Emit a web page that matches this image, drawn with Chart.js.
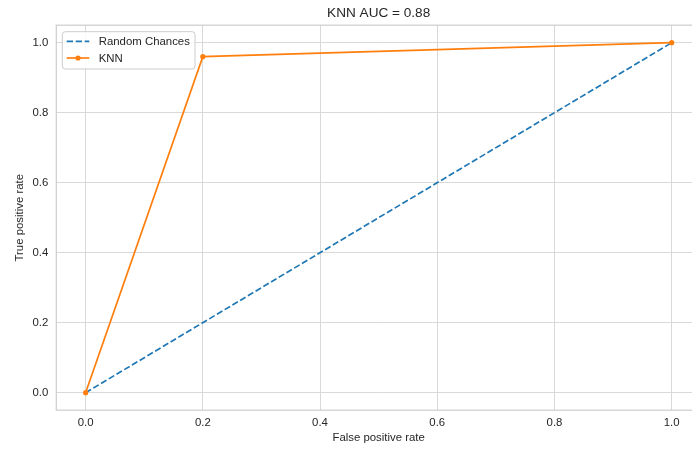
<!DOCTYPE html>
<html>
<head>
<meta charset="utf-8">
<script src="https://cdn.jsdelivr.net/npm/chart.js@4/dist/chart.umd.min.js"></script>
<style>
  html, body { margin: 0; padding: 0; background: #fff; overflow: hidden; }
  #wrap { width: 710px; height: 450px; }
</style>
</head>
<body>
<div id="wrap"><canvas id="c" width="710" height="450"></canvas></div>
<script>
// ---- data ----
const chartTitle = "KNN AUC = 0.88";
const xLabel = "False positive rate";
const yLabel = "True positive rate";
const seriesNames = ["Random Chances", "KNN"];
const randomFpr = [0, 1];
const randomTpr = [0, 1];
const knnFpr = [0, 0.2, 1];
const knnTpr = [0, 0.96, 1];
const xTicks = [0, 0.2, 0.4, 0.6, 0.8, 1.0];
const yTicks = [0, 0.2, 0.4, 0.6, 0.8, 1.0];

const FONT = "'Liberation Sans', Arial, sans-serif";
const TEXT = "#262626";
const GRID = "#d9d9d9";
const SPINE = "#cccccc";

function pts(xs, ys) { return xs.map((x, i) => ({ x: x, y: ys[i] })); }

const framePlugin = {
  id: 'frame',
  beforeDatasetsDraw(chart) {
    const { ctx, chartArea: a } = chart;
    ctx.save();
    ctx.strokeStyle = SPINE;
    ctx.lineWidth = 1.2;
    ctx.strokeRect(a.left, a.top, a.right - a.left, a.bottom - a.top);
    ctx.restore();
  },
  afterDraw(chart) {
    const { ctx, chartArea: a } = chart;
    ctx.save();
    // title
    ctx.fillStyle = TEXT;
    ctx.font = "13.6px " + FONT;
    ctx.textAlign = "center";
    ctx.textBaseline = "middle";
    ctx.fillText(chartTitle, (a.left + a.right) / 2, 13);
    // legend
    const bx = 62.3, by = 31.7, bw = 132.7, bh = 37.3, r = 3;
    ctx.beginPath();
    ctx.moveTo(bx + r, by);
    ctx.arcTo(bx + bw, by, bx + bw, by + bh, r);
    ctx.arcTo(bx + bw, by + bh, bx, by + bh, r);
    ctx.arcTo(bx, by + bh, bx, by, r);
    ctx.arcTo(bx, by, bx + bw, by, r);
    ctx.closePath();
    ctx.fillStyle = "rgba(255,255,255,0.85)";
    ctx.fill();
    ctx.strokeStyle = SPINE;
    ctx.lineWidth = 1;
    ctx.stroke();
    const order = [1, 0]; // dataset index for Random, KNN
    const rows = [41.3, 58];
    order.forEach((di, k) => {
      const ds = chart.data.datasets[di];
      const y = rows[k];
      ctx.beginPath();
      ctx.setLineDash(ds.borderDash || []);
      ctx.strokeStyle = ds.borderColor;
      ctx.lineWidth = ds.borderWidth;
      ctx.moveTo(66.7, y);
      ctx.lineTo(89.3, y);
      ctx.stroke();
      ctx.setLineDash([]);
      if (ds.pointRadius > 0) {
        ctx.beginPath();
        ctx.fillStyle = ds.pointBackgroundColor;
        ctx.arc(78, y, ds.pointRadius, 0, Math.PI * 2);
        ctx.fill();
      }
      ctx.fillStyle = TEXT;
      ctx.font = "11.4px " + FONT;
      ctx.textAlign = "left";
      ctx.textBaseline = "middle";
      ctx.fillText(ds.label, 98.7, y + 0.5);
    });
    ctx.restore();
  }
};

new Chart(document.getElementById('c'), {
  type: 'scatter',
  data: {
    datasets: [
      {
        label: seriesNames[1],
        data: pts(knnFpr, knnTpr),
        showLine: true,
        borderColor: '#ff7f0e',
        backgroundColor: '#ff7f0e',
        pointBackgroundColor: '#ff7f0e',
        pointBorderWidth: 0,
        pointRadius: 2.6,
        borderWidth: 1.7,
        order: 0
      },
      {
        label: seriesNames[0],
        data: pts(randomFpr, randomTpr),
        showLine: true,
        borderColor: '#1f77b4',
        backgroundColor: '#1f77b4',
        borderDash: [6.3, 2.7],
        pointRadius: 0,
        borderWidth: 1.7,
        order: 1
      }
    ]
  },
  options: {
    responsive: false,
    animation: false,
    events: [],
    layout: { padding: { top: 25.2, right: 9, left: 0, bottom: 0 } },
    plugins: { legend: { display: false }, title: { display: false }, tooltip: { enabled: false } },
    scales: {
      x: {
        type: 'linear',
        min: -0.05, max: 1.05,
        afterFit(s) { s.height = 39.8; },
        afterBuildTicks(s) { s.ticks = xTicks.map(v => ({ value: v })); },
        grid: { color: GRID, lineWidth: 1, drawTicks: false },
        border: { display: false },
        ticks: {
          padding: 6,
          color: TEXT,
          font: { family: FONT, size: 11.4 },
          maxRotation: 0,
          callback: v => Number(v).toFixed(1)
        },
        title: {
          display: true, text: xLabel, color: TEXT,
          font: { family: FONT, size: 11.4 },
          padding: { top: 0, bottom: 5.4 }
        }
      },
      y: {
        type: 'linear',
        min: -0.05, max: 1.05,
        afterFit(s) { s.width = 56.3; },
        afterBuildTicks(s) { s.ticks = yTicks.map(v => ({ value: v })); },
        grid: { color: GRID, lineWidth: 1, drawTicks: false },
        border: { display: false },
        ticks: {
          padding: 8,
          color: TEXT,
          font: { family: FONT, size: 11.4 },
          callback: v => Number(v).toFixed(1)
        },
        title: {
          display: true, text: yLabel, color: TEXT,
          font: { family: FONT, size: 11.4 },
          padding: { top: 13.4, bottom: 0 }
        }
      }
    }
  },
  plugins: [framePlugin]
});
</script>
</body>
</html>
